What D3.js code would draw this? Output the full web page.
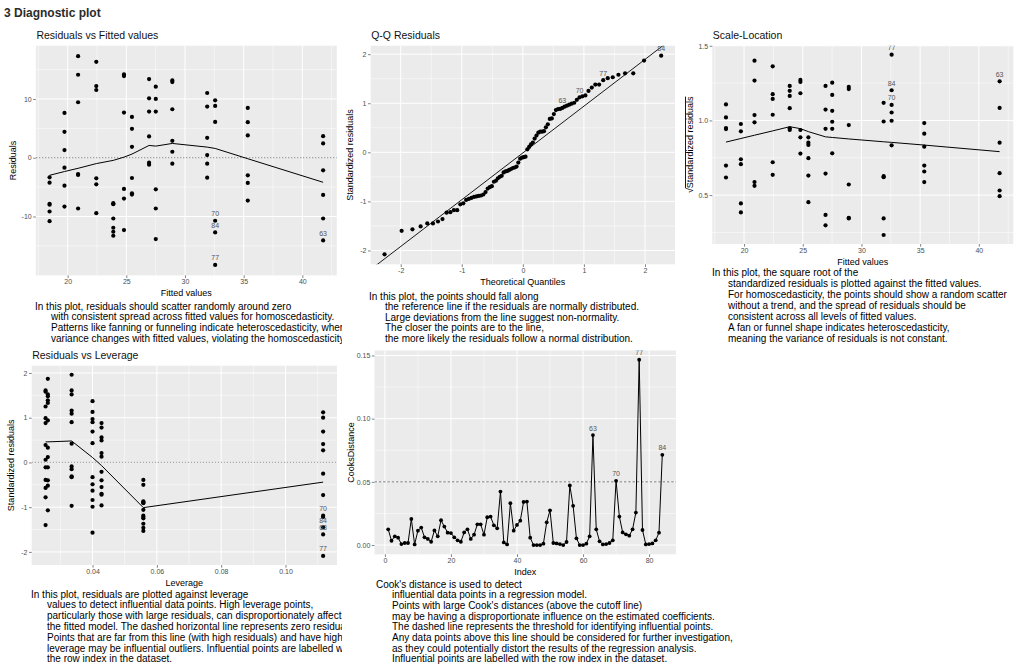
<!DOCTYPE html>
<html><head><meta charset="utf-8">
<script src="https://cdn.jsdelivr.net/npm/d3@7"></script>
<style>
body{margin:0;background:#fff;}
svg text{font-family:"Liberation Sans",Arial,sans-serif;}
</style></head>
<body><svg id="c" width="1015" height="667"></svg>
<script>
// ---------------- DATA ----------------
const fittedGroups = [18.46,19.73,20.89,22.44,23.89,24.80,25.48,26.94,27.51,28.92,31.89,32.57,35.35,41.77];
const residualsByGroup = [
 [-3.33,-4.24,-7.85,-8.0,-9.15,-10.8],
 [7.63,4.41,1.30,-1.69,-4.75,-8.31],
 [17.29,14.12,9.44,-2.77,-2.94,-8.64],
 [16.33,12.2,11.53,-3.5,-4.52,-9.44],
 [-7.74,-7.9,-10.34,-11.92,-12.6,-13.28],
 [14.18,13.9,7.68,-5.31,-6.95,-12.32],
 [6.95,4.92,1.86,-3.45,-6.05,-6.27],
 [13.39,10.11,7.85,3.62,-0.85,-1.19],
 [12.09,10.0,7.85,-5.37,-8.64,-13.84],
 [13.16,12.88,8.25,2.88,1.02,-1.02],
 [11.02,8.7,3.39,0.45,-1.02,-3.39],
 [9.77,8.81,6.1,-10.73,-12.71,-18.25],
 [8.47,6.05,3.79,-2.99,-4.29,-7.29],
 [3.67,2.43,-2.15,-6.33,-10.34,-14.07]
];
const residSmooth = [-2.99,-2.35,-1.8,-1.0,-0.45,0.1,0.62,2.09,1.98,2.43,1.81,1.58,-0.17,-4.18];
const residLabels = [{id:"70",g:11,v:-10.73},{id:"84",g:11,v:-12.71},{id:"77",g:11,v:-18.25},{id:"63",g:13,v:-14.07}];

const theoQuantiles = [-2.265,-1.985,-1.808,-1.674,-1.565,-1.472,-1.390,-1.316,-1.249,-1.187,-1.129,-1.075,-1.024,-0.975,-0.929,-0.884,-0.842,-0.800,-0.760,-0.722,-0.684,-0.647,-0.611,-0.576,-0.541,-0.508,-0.474,-0.441,-0.409,-0.377,-0.346,-0.315,-0.284,-0.253,-0.223,-0.193,-0.163,-0.133,-0.103,-0.074,-0.044,-0.015,
 0.015,0.044,0.074,0.103,0.133,0.163,0.193,0.223,0.253,0.284,0.315,0.346,0.377,0.409,0.441,0.474,0.508,0.541,0.576,0.611,0.647,0.684,0.722,0.760,0.800,0.842,0.884,0.929,0.975,1.024,1.075,1.129,1.187,1.249,1.316,1.390,1.472,1.565,1.674,1.808,1.985,2.265];
const qqStdResiduals = [-2.08,-1.60,-1.57,-1.51,-1.45,-1.45,-1.41,-1.36,-1.23,-1.22,
 -1.18,-1.18,-1.06,-1.04,-0.97,-0.95,-0.93,-0.91,-0.90,-0.89,
 -0.88,-0.86,-0.81,-0.74,-0.71,-0.69,-0.60,-0.58,-0.53,-0.50,
 -0.48,-0.41,-0.39,-0.38,-0.36,-0.34,-0.32,-0.31,-0.29,-0.21,
 -0.13,-0.11,-0.10,-0.09,
 0.06,0.11,0.16,0.20,0.28,0.34,0.40,0.42,0.42,0.43,
 0.51,0.57,0.68,0.69,0.78,0.86,0.88,0.885,0.905,0.93,
 0.95,0.97,0.99,1.01,1.07,1.12,1.14,1.16,1.25,1.32,
 1.38,1.38,1.47,1.51,1.53,1.58,1.61,1.61,1.87,1.97];
const qqLine = {intercept:-0.013, slope:0.953};
const qqLabels = [63,70,77,84];

const slByGroup = [
 [1.107,1.02,0.949,0.942,0.698,0.618],
 [0.976,0.927,0.74,0.707,0.444,0.384],
 [1.40,1.267,1.036,0.987,0.587,0.562],
 [1.362,1.176,1.144,1.038,0.72,0.636],
 [1.231,1.198,1.164,1.082,0.947,0.936],
 [1.271,1.258,1.182,0.936,0.887,0.778],
 [0.887,0.851,0.836,0.747,0.631,0.453],
 [1.231,1.073,0.944,0.644,0.367,0.298],
 [1.253,1.171,1.064,0.991,0.944,0.78],
 [1.224,1.21,0.969,0.571,0.348,0.344],
 [1.118,0.993,0.627,0.62,0.344,0.233],
 [1.44,1.202,1.104,1.053,0.998,0.833],
 [0.982,0.911,0.824,0.698,0.658,0.587],
 [1.262,1.084,0.851,0.647,0.531,0.493]
];
const slSmooth = [0.855,0.879,0.901,0.930,0.958,0.945,0.925,0.890,0.886,0.876,0.857,0.853,0.835,0.791];
const slLabels = [{id:"77",g:11,v:1.44},{id:"84",g:11,v:1.202},{id:"70",g:11,v:1.104},{id:"63",g:13,v:1.262}];

const leverageGroups = [0.0254,0.0261,0.0335,0.0400,0.0428,0.0558,0.1117];
const levStdResiduals = [
 [1.61,1.58,1.25,0.99,0.88,0.39,0.06,-0.11,-0.39,-0.57,-0.78,-1.40],
 [1.87,1.52,1.48,1.39,1.33,0.94,0.33,0.12,-0.11,-0.40,-0.52,-1.07],
 [1.96,1.61,1.52,1.16,1.09,0.90,0.42,-0.09,-0.15,-0.31,-0.33,-0.97],
 [1.37,1.13,0.97,0.90,0.69,0.43,-0.33,-0.49,-0.63,-0.84,-0.99,-1.57],
 [0.88,0.78,0.56,0.49,0.21,0.13,-0.21,-0.40,-0.55,-0.70,-0.72,-0.96],
 [-0.39,-0.50,-0.87,-0.89,-0.91,-1.06,-1.19,-1.22,-1.25,-1.37,-1.46,-1.53],
 [1.12,1.00,0.69,0.41,0.27,-0.25,-0.73,-1.19,-1.22,-1.45,-1.61,-2.09]
];
const levSmooth = [0.46,0.46,0.48,0.11,-0.07,-1.01,-0.44];
const levLabels = [{id:"70",g:6,v:-1.19},{id:"84",g:6,v:-1.45},{id:"63",g:6,v:-1.61},{id:"77",g:6,v:-2.09}];

const cooksDistance = [0.0124,0.0034,0.0069,0.0058,0.0008,0.0016,0.0016,0.0206,0.0005,0.0114,
 0.0138,0.0061,0.0048,0.0026,0.0116,0.0069,0.0196,0.0146,0.0098,0.0095,
 0.0061,0.0037,0.0026,0.0100,0.0124,0.0048,0.0082,0.0164,0.0164,0.0082,
 0.0220,0.0225,0.0156,0.0132,0.0423,0.0021,0.0005,0.0331,0.0114,0.0159,
 0.0193,0.0341,0.0344,0.0058,0.0000,0.0000,0.0000,0.0011,0.0180,0.0275,
 0.0016,0.0013,0.0008,0.0000,0.0024,0.0471,0.0310,0.0053,0.0000,0.0000,
 0.0011,0.0069,0.0870,0.0124,0.0029,0.0005,0.0008,0.0016,0.0037,0.0508,
 0.0225,0.0100,0.0085,0.0074,0.0124,0.0257,0.1466,0.0119,0.0005,0.0008,
 0.0013,0.0037,0.0098,0.0714];
const cooksCutoff = 0.05;
const cooksLabels = [63,70,77,84];

// tick values
const fitTicks=[20,25,30,35,40], fitMinor=[17.5,22.5,27.5,32.5,37.5,42.5];
const resTicks=[-10,0,10], resMinor=[-15,-5,5,15];
const qTicks=[-2,-1,0,1,2], qMinor=[-1.5,-0.5,0.5,1.5];
const slTicks=[0.5,1.0,1.5], slMinor=[0.25,0.75,1.25];
const levTicks=[0.04,0.06,0.08,0.10], levMinor=[0.03,0.05,0.07,0.09,0.11];
const idxTicks=[0,20,40,60,80], idxMinor=[10,30,50,70];
const cdTicks=[0,0.05,0.10,0.15], cdMinor=[0.025,0.075,0.125];

const mainTitle = "3 Diagnostic plot";
const text1 = ["In this plot, residuals should scatter randomly around zero",
 "with consistent spread across fitted values for homoscedasticity.",
 "Patterns like fanning or funneling indicate heteroscedasticity, where",
 "variance changes with fitted values, violating the homoscedasticity assumption."];
const text2 = ["In this plot, the points should fall along",
 "the reference line if the residuals are normally distributed.",
 "Large deviations from the line suggest non-normality.",
 "The closer the points are to the line,",
 "the more likely the residuals follow a normal distribution."];
const text3 = ["In this plot, the square root of the",
 "standardized residuals is plotted against the fitted values.",
 "For homoscedasticity, the points should show a random scatter",
 "without a trend, and the spread of residuals should be",
 "consistent across all levels of fitted values.",
 "A fan or funnel shape indicates heteroscedasticity,",
 "meaning the variance of residuals is not constant."];
const text4 = ["In this plot, residuals are plotted against leverage",
 "values to detect influential data points. High leverage points,",
 "particularly those with large residuals, can disproportionately affect",
 "the fitted model. The dashed horizontal line represents zero residuals.",
 "Points that are far from this line (with high residuals) and have high",
 "leverage may be influential outliers. Influential points are labelled with",
 "the row index in the dataset."];
const text5 = ["Cook's distance is used to detect",
 "influential data points in a regression model.",
 "Points with large Cook's distances (above the cutoff line)",
 "may be having a disproportionate influence on the estimated coefficients.",
 "The dashed line represents the threshold for identifying influential points.",
 "Any data points above this line should be considered for further investigation,",
 "as they could potentially distort the results of the regression analysis.",
 "Influential points are labelled with the row index in the dataset."];

// ---------------- DRAW ----------------
const svg = d3.select('#c');
const defs = svg.append('defs');
let clipN = 0;
function clip(x,y,w,h){const id='cp'+(clipN++);defs.append('clipPath').attr('id',id).append('rect').attr('x',x).attr('y',y).attr('width',w).attr('height',h);return `url(#${id})`;}
function expand(vals){const e=d3.extent(vals);const d=(e[1]-e[0])*0.05;return [e[0]-d,e[1]+d];}
const hy = v => String(Math.round(v*1000)/1000).replace('\u2212','-');

function panel(o){
  const x=d3.scaleLinear().domain(o.xd).range([o.l,o.r]);
  const y=d3.scaleLinear().domain(o.yd).range([o.b,o.t]);
  const g=svg.append('g');
  g.append('rect').attr('x',o.l).attr('y',o.t).attr('width',o.r-o.l).attr('height',o.b-o.t).attr('fill','#EBEBEB');
  const gr=g.append('g').attr('stroke','#fff');
  o.xm.forEach(v=>gr.append('line').attr('x1',x(v)).attr('x2',x(v)).attr('y1',o.t).attr('y2',o.b).attr('stroke-width',0.5));
  o.ym.forEach(v=>gr.append('line').attr('y1',y(v)).attr('y2',y(v)).attr('x1',o.l).attr('x2',o.r).attr('stroke-width',0.5));
  o.xt.forEach(v=>gr.append('line').attr('x1',x(v)).attr('x2',x(v)).attr('y1',o.t).attr('y2',o.b).attr('stroke-width',1));
  o.yt.forEach(v=>gr.append('line').attr('y1',y(v)).attr('y2',y(v)).attr('x1',o.l).attr('x2',o.r).attr('stroke-width',1));
  const xa=g.append('g').attr('transform',`translate(0,${o.b})`).call(d3.axisBottom(x).tickValues(o.xt).tickFormat(o.xf).tickSize(2.7).tickPadding(1.3));
  const ya=g.append('g').attr('transform',`translate(${o.l},0)`).call(d3.axisLeft(y).tickValues(o.yt).tickFormat(o.yf).tickSize(2.7).tickPadding(1.5));
  [xa,ya].forEach(a=>{a.attr('font-family',null).attr('font-size',null);a.select('.domain').remove();
    a.selectAll('line').attr('stroke','#333').attr('stroke-width',0.6);
    a.selectAll('text').attr('fill','#4d4d4d').style('font-size','7px');});
  g.append('text').attr('x',(o.l+o.r)/2).attr('y',o.b+17.5).attr('text-anchor','middle').attr('dominant-baseline','central')
   .style('font-size','9px').attr('fill','#000').text(o.xlab);
  const yl=g.append('text').attr('transform',`translate(${o.ylx},${(o.t+o.b)/2}) rotate(-90)`).attr('text-anchor','middle')
   .attr('dominant-baseline','central').style('font-size','9px').attr('fill','#000');
  if(o.sqrt){yl.append('tspan').text('\u221A');yl.append('tspan').style('text-decoration','overline').text(o.ylab);}
  else yl.text(o.ylab);
  if(o.title) g.append('text').attr('x',o.l+0.5).attr('y',o.ty).style('font-size','10.5px').attr('fill','#111').text(o.title);
  const plot=g.append('g').attr('clip-path',clip(o.l,o.t,o.r-o.l,o.b-o.t));
  return {x,y,plot};
}
function dots(p,pts,r=2.1){p.plot.append('g').selectAll('circle').data(pts).join('circle').attr('cx',d=>p.x(d[0])).attr('cy',d=>p.y(d[1])).attr('r',r).attr('fill','#000');}
function labels(p,pts){p.plot.append('g').selectAll('text').data(pts).join('text').attr('x',d=>p.x(d[0])).attr('y',d=>p.y(d[1])-7)
  .attr('text-anchor','middle').attr('dominant-baseline','central').style('font-size','7px').attr('fill','#555').text(d=>d[2]);}
function pathLine(p,pts,w=1){p.plot.append('path').attr('d',d3.line().x(d=>p.x(d[0])).y(d=>p.y(d[1]))(pts)).attr('fill','none').attr('stroke','#000').attr('stroke-width',w);}
function hline(p,v,dash,col,w){p.plot.append('line').attr('x1',p.x.range()[0]).attr('x2',p.x.range()[1]).attr('y1',p.y(v)).attr('y2',p.y(v))
  .attr('stroke',col).attr('stroke-width',w).attr('stroke-dasharray',dash);}
function para(lines,x,y0,lh,clipW){const g=svg.append('g');if(clipW)g.attr('clip-path',clip(0,0,clipW,667));
  lines.forEach((t,i)=>g.append('text').attr('x',i===0?x:x+16).attr('y',y0+i*lh).style('font-size','10px').attr('fill','#000').text(t));}

svg.append('text').attr('x',4).attr('y',17).style('font-size','12px').style('font-weight','bold').attr('fill','#2b2b2b').text(mainTitle);

// Panel 1: Residuals vs Fitted
const p1pts=[];residualsByGroup.forEach((arr,gi)=>arr.forEach(v=>p1pts.push([fittedGroups[gi],v])));
const p1=panel({l:35.9,r:336.8,t:45.7,b:275.4,xd:expand(fittedGroups),yd:expand(p1pts.map(d=>d[1])),
  xt:fitTicks,xm:fitMinor,yt:resTicks,ym:resMinor,xf:hy,yf:hy,xlab:'Fitted values',ylab:'Residuals',ylx:12.7,title:'Residuals vs Fitted values',ty:39});
hline(p1,0,'1.5,1.5','#555',0.7);
dots(p1,p1pts);
pathLine(p1,fittedGroups.map((f,i)=>[f,residSmooth[i]]));
labels(p1,residLabels.map(d=>[fittedGroups[d.g],d.v,d.id]));

// Panel 2: Q-Q
const qpts=theoQuantiles.map((q,i)=>[q,qqStdResiduals[i]]);
const p2=panel({l:370.7,r:675,t:45.7,b:264.3,xd:expand(theoQuantiles),yd:expand(qqStdResiduals),
  xt:qTicks,xm:qMinor,yt:qTicks,ym:qMinor,xf:hy,yf:hy,xlab:'Theoretical Quantiles',ylab:'Standardized residuals',ylx:349.5,title:'Q-Q Residuals',ty:39});
const qd=p2.x.domain();
pathLine(p2,qd.map(v=>[v,qqLine.intercept+qqLine.slope*v]),0.9);
dots(p2,qpts);
labels(p2,qqLabels.map(i=>[theoQuantiles[i-1],qqStdResiduals[i-1],String(i)]));

// Panel 3: Scale-Location
const slpts=[];slByGroup.forEach((arr,gi)=>arr.forEach(v=>slpts.push([fittedGroups[gi],v])));
const p3=panel({l:712.3,r:1013.3,t:45.7,b:244,xd:expand(fittedGroups),yd:expand(slpts.map(d=>d[1])),
  xt:fitTicks,xm:fitMinor,yt:slTicks,ym:slMinor,xf:hy,yf:d3.format('.1f'),xlab:'Fitted values',ylab:'Standardized residuals',sqrt:true,ylx:690,title:'Scale-Location',ty:39});
dots(p3,slpts);
pathLine(p3,fittedGroups.map((f,i)=>[f,slSmooth[i]]));
labels(p3,slLabels.map(d=>[fittedGroups[d.g],d.v,d.id]));

// Panel 4: Residuals vs Leverage
const lpts=[];levStdResiduals.forEach((arr,gi)=>arr.forEach(v=>lpts.push([leverageGroups[gi],v])));
const p4=panel({l:31.7,r:337,t:365.7,b:565,xd:expand(leverageGroups),yd:expand(lpts.map(d=>d[1])),
  xt:levTicks,xm:levMinor,yt:qTicks,ym:qMinor,xf:d3.format('.2f'),yf:hy,xlab:'Leverage',ylab:'Standardized residuals',ylx:10.5,title:'Residuals vs Leverage',ty:359});
hline(p4,0,'1.5,1.5','#aaa',1.3);
dots(p4,lpts);
pathLine(p4,leverageGroups.map((l,i)=>[l,levSmooth[i]]));
labels(p4,levLabels.map(d=>[leverageGroups[d.g],d.v,d.id]));

// Panel 5: Cook's distance
const cpts=cooksDistance.map((v,i)=>[i+1,v]);
const p5=panel({l:374.5,r:676,t:350.5,b:554.3,xd:expand(cpts.map(d=>d[0])),yd:expand(cooksDistance),
  xt:idxTicks,xm:idxMinor,yt:cdTicks,ym:cdMinor,xf:hy,yf:d3.format('.2f'),xlab:'Index',ylab:'CooksDistance',ylx:350.5,title:null});
hline(p5,cooksCutoff,'2.5,1.8','#444',0.7);
pathLine(p5,cpts,1);
dots(p5,cpts,1.9);
labels(p5,cooksLabels.map(i=>[i,cooksDistance[i-1],String(i)]));

// descriptive texts
para(text1,35,309.5,10.7,342);
para(text2,369,299.5,10.6,null);
para(text3,712,275.8,10.95,null);
para(text4,31,597.5,10.8,342);
para(text5,376,587.5,10.7,null);
</script></body></html>
